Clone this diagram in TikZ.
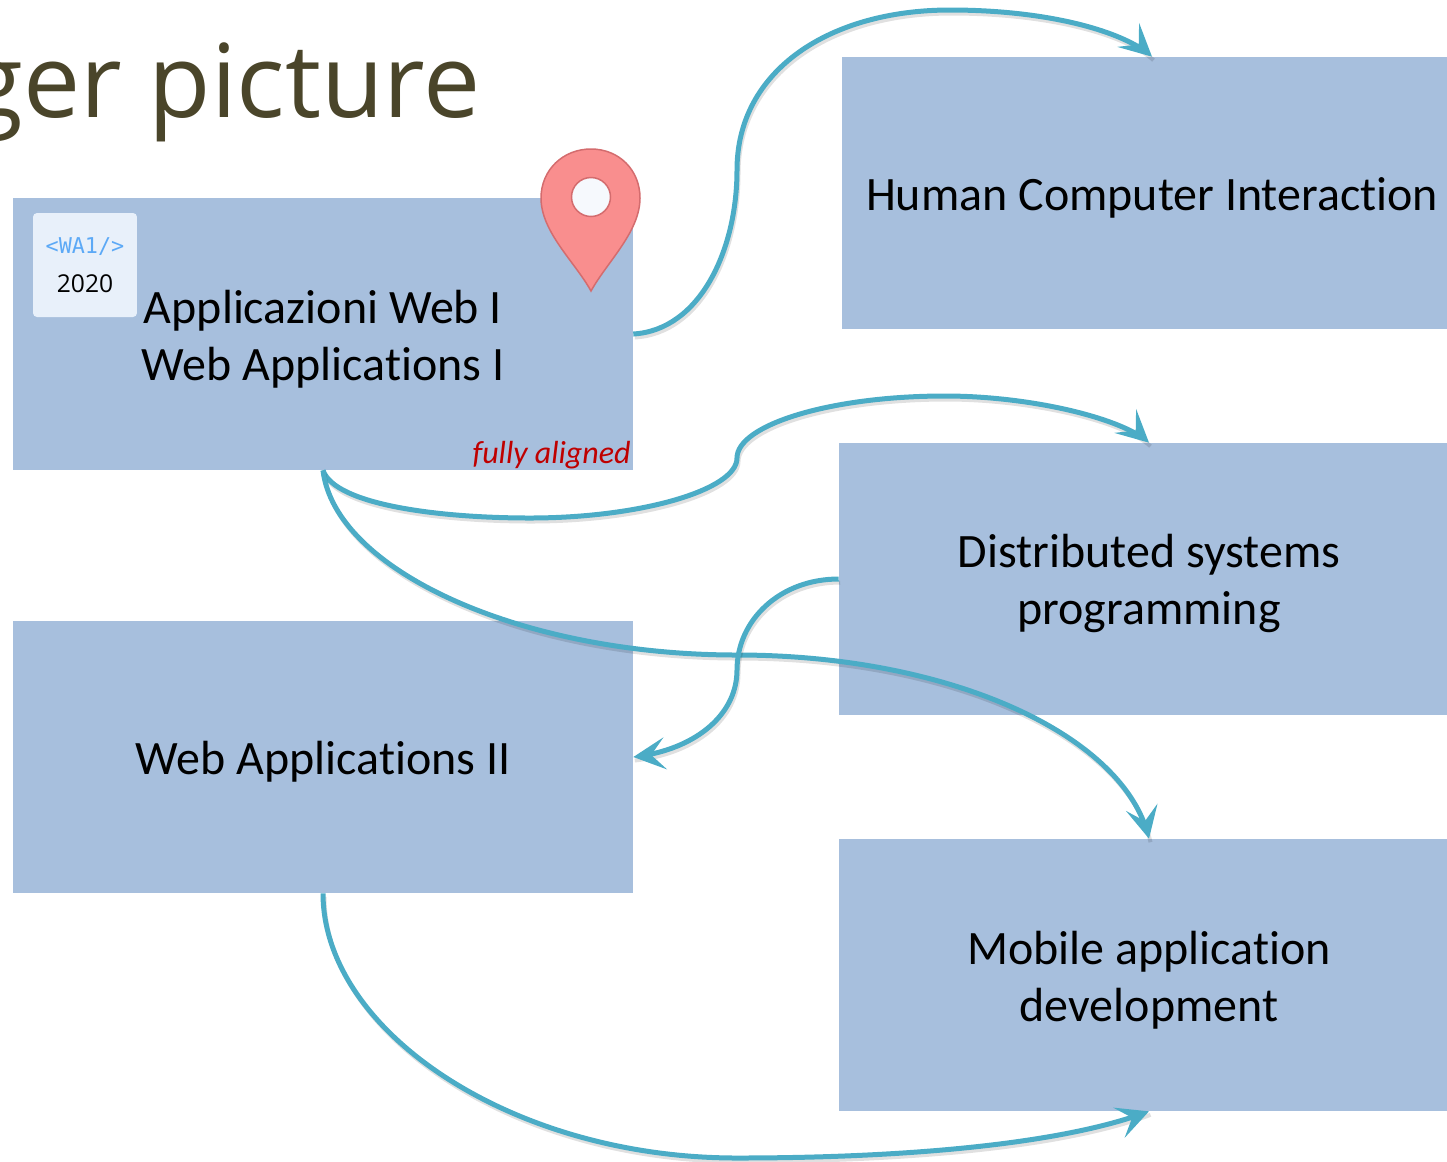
\documentclass[tikz,border=0pt]{standalone}
\usepackage{fontspec}
\setmainfont[Ligatures=NoCommon]{Carlito}
\newfontfamily\titlefont{Open Sans}
\newfontfamily\badgemono{DejaVu Sans Mono}
\newfontfamily\badgesans{Open Sans}
\usetikzlibrary{calc}
\usetikzlibrary{arrows.meta,bending}
\definecolor{boxblue}{HTML}{A7BFDD}
\definecolor{linkteal}{HTML}{4BACC6}
\definecolor{titleolive}{HTML}{4A452A}
\definecolor{pinred}{HTML}{F98E8E}
\definecolor{pinedge}{HTML}{D46C6E}
\definecolor{badgefill}{HTML}{E8F0FA}
\definecolor{badgeblue}{HTML}{5CA9F6}
\newcommand{\firstline}{\rule{0pt}{24.4pt}} % Moves the box text a little down
\tikzset{
  course/.style={fill=boxblue,minimum width=12.4cm,minimum height=5.44cm,inner sep=0pt,
    align=center,font=\fontsize{27.3}{32.4}\selectfont},
  link/.style={draw=linkteal,line width=0.1cm,
    -{Stealth[length=0.64cm,width=0.64cm,inset=0.28cm,flex=0]},
    preaction={draw=black,draw opacity=0.12,line width=0.08cm,-,
      transform canvas={shift={(0.03cm,-0.07cm)}}}},
}

\begin{document}
\begin{tikzpicture}[x=0.02cm,y=-0.02cm]
    \path[use as bounding box,clip] (0,0) rectangle (1447,1161); % Cuts the boxes at the page edge

    \node[anchor=base east,text=titleolive,inner sep=0pt,font=\titlefont\fontsize{58}{70}\selectfont]
      (title) at (481,117) {ger picture};

    % The course boxes
    \node[course] (wa1) at (323,334) {\firstline Applicazioni Web I\\Web Applications I};
    \node[course] (wa2) at (323,757) {\firstline Web Applications II};
    \node[course] (hci) at (1152,193) {\firstline Human Computer Interaction};
    \node[course] (dsp) at (1149,579) {\firstline Distributed systems\\programming};
    \node[course] (mad) at (1149,975) {\firstline Mobile application\\development};

    \node[anchor=base east,text=red!75!black,inner sep=0pt,
      font=\itshape\fontsize{18.2}{20}\selectfont] (aligned) at (631,463) {fully aligned};

    % The badge in the corner of wa1
    \node[fill=badgefill,rounded corners=0.08cm,minimum size=2.08cm,inner sep=0pt] (badge) at (85,265) {};
    \node[text=badgeblue,inner sep=0pt,font=\badgemono\fontsize{12.4}{14}\selectfont] (badgetag) at (85,247) {<WA1/>};
    \node[inner sep=0pt,font=\badgesans\fontsize{14}{15}\selectfont] (badgeyear) at (85,284) {2020};

    % The map pin
    \filldraw[fill=pinred,draw=pinedge,line width=0.03cm] (591,291)
      .. controls (575,262) and (541,232) .. (541,198)
      .. controls (541,170) and (563,149) .. (591,149)
      .. controls (619,149) and (640,170) .. (640,198)
      .. controls (640,232) and (607,262) .. (591,291) -- cycle;
    \filldraw[fill=badgefill!40!white,draw=pinedge,line width=0.03cm] (591,197) circle (19.5 and 19.5);

    % The connectors
    \draw[link] (wa1.east) .. controls (700,330) and (737,250) .. (737,170)
      .. controls (737,70) and (830,10) .. (950,10)
      .. controls (1050,10) and (1125,32) .. (hci.north);
    \draw[link] (wa1.south) .. controls (335,505) and (440,518) .. (530,518)
      .. controls (640,518) and (737,490) .. (737,458)
      .. controls (737,425) and (830,396) .. (945,396)
      .. controls (1030,396) and (1122,418) .. (dsp.north);
    \draw[link] (wa1.south) .. controls (335,570) and (520,655) .. (737,655)
      .. controls (950,655) and (1125,735) .. (mad.north);
    \draw[link] (dsp.west) .. controls (780,579) and (737,620) .. (737,670)
      .. controls (737,715) and (695,750) .. (wa2.east);
    \draw[link] (wa2.south) .. controls (323,1030) and (510,1158) .. (737,1158)
      .. controls (900,1158) and (1060,1145) .. (mad.south);
\end{tikzpicture}
\end{document}
